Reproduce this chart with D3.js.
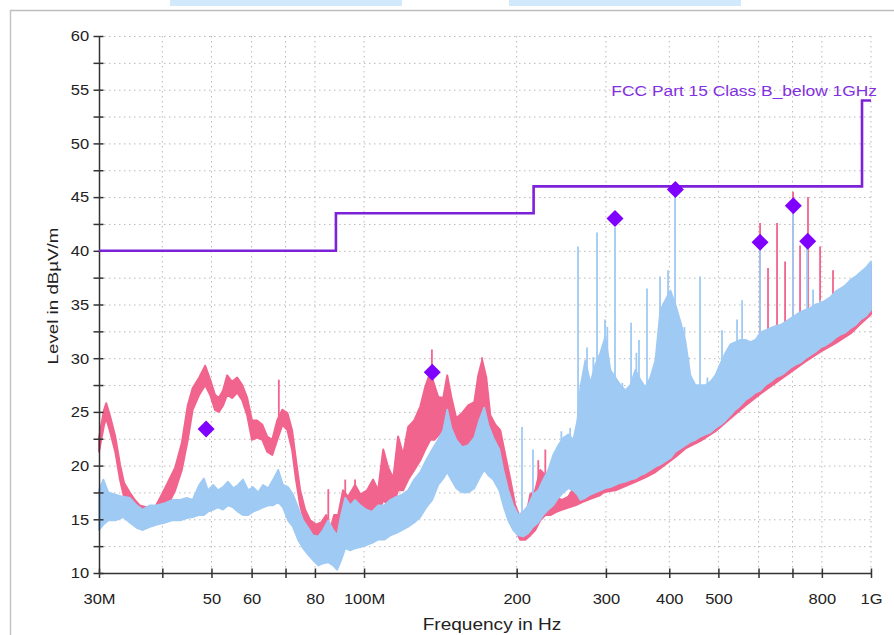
<!DOCTYPE html>
<html><head><meta charset="utf-8">
<script src="https://cdn.jsdelivr.net/npm/d3@7"></script>
<style>body{margin:0;background:#fff;} svg{display:block;}</style>
</head><body>
<svg id="c" width="894" height="635"></svg>
<script>
// ---------- DATA ----------
const limitFreq = [30, 88, 216, 960, 1000];
const limitLevel = [40, 43.5, 46, 54, 54];
const limitName = "FCC Part 15 Class B_below 1GHz";

const finalFreq = [48.8, 136.3, 312.6, 411.3, 604.2, 702.7, 750.0];
const finalLevel = [23.4, 28.7, 43.0, 45.7, 40.8, 44.2, 40.9];

const pinkFreq = [30,30.7,31.0,31.5,32.3,33.0,33.6,34.5,35.3,36.1,37.3,38.7,39.9,41.0,42.4,43.7,44.9,45.9,47.3,48.6,49.7,50.8,51.7,52.7,53.7,54.9,56.2,57.5,58.8,60.1,61.5,63.0,64.4,65.9,67.4,69.0,70.6,72.1,73.4,74.8,76.5,78.3,80.4,82.3,84.2,85.7,87.3,88.9,90.9,93.0,96.0,98.3,101.4,104.2,106.6,109.1,111.6,114.2,116.7,119.4,122.2,125.6,129.1,132.0,135.1,137.6,140.0,143.3,145.9,148.6,152.0,156.2,160.5,165.0,168.0,171.0,174.2,177.4,181.5,185.6,189.9,194.3,198.7,203.3,208.0,212.7,217.6,222.6,227.8,233.0,239.5,246.1,252.9,261.1,269.5,279.5,291.2,296.5,303.3,313.1,327.7,342.9,358.9,375.6,393.0,411.3,430.4,460.8,493.3,528.2,565.4,605.3,648.0,693.8,742.7,795.1,851.2,911.3,953.7,1000];
const pinkHigh = [22.6,25.2,25.8,24.7,22.7,20.1,18.4,17.5,16.8,16.3,16.1,16.1,17.3,18.4,19.8,22.1,25.6,27.2,28.2,29.3,28.0,26.6,26.3,27.0,28.4,27.8,28.2,27.5,26.3,24.2,24.2,23.8,22.7,22.4,24.2,25.2,24.9,23.3,20.5,17.7,15.9,14.9,14.5,14.7,15.4,14.0,15.4,15.4,17.7,17.1,18.2,17.3,17.7,18.7,17.7,21.5,19.8,18.8,22.7,21.0,23.6,24.2,25.5,27.3,28.7,27.5,26.4,26.3,28.4,26.4,24.4,24.9,25.6,25.9,28.4,29.8,28.2,24.7,23.8,23.3,21.0,18.7,16.3,15.1,14.9,17.3,17.7,19.6,19.1,17.7,17.0,16.8,17.1,18.2,19.1,19.8,21.5,24.2,21.0,20.3,20.1,20.5,21.0,21.9,23.3,23.3,24.2,25.2,26.1,27.0,28.4,29.8,31.2,32.2,33.6,34.5,35.9,36.8,37.7,38.7];
const pinkLow = [21.3,23.8,24.4,23.3,21.3,18.7,17.1,16.1,15.5,14.9,14.3,14.5,15.4,16.3,17.7,19.6,22.4,25.2,26.6,27.5,26.6,25.2,25.0,25.6,26.6,26.3,26.8,26.1,24.7,22.4,22.6,22.4,21.3,21.0,22.4,23.8,23.3,21.5,18.7,16.3,14.5,13.1,12.6,12.3,12.6,11.7,12.3,12.6,14.9,14.5,15.4,14.9,14.9,15.4,15.4,16.8,16.3,16.3,17.7,17.7,18.7,19.6,20.5,21.5,22.4,22.4,22.8,23.3,23.8,22.4,21.5,21.0,21.5,21.9,23.3,24.2,22.4,21.0,20.1,19.1,17.3,15.4,14.0,13.1,13.1,13.5,14.0,14.9,15.4,15.4,15.7,15.9,16.1,16.3,16.6,16.9,17.2,17.5,17.6,17.7,18.1,18.5,18.9,19.4,20.1,20.8,21.6,22.3,23.2,24.4,25.6,26.7,27.7,28.7,29.7,30.6,31.4,32.3,33.2,34.1];

const blueFreq = [30,30.6,31.3,32.3,33.5,34.5,35.6,36.6,37.8,39.0,40.5,41.8,43.4,44.7,45.9,47.3,48.3,49.2,50.4,51.5,52.7,53.9,55.2,56.4,57.7,59.1,60.4,61.8,63.2,64.7,66.2,67.7,69.2,70.8,72.4,74.1,75.8,77.6,79.3,81.2,83.0,85.0,86.9,88.5,90.1,91.8,93.9,96.0,98.3,101.0,103.7,106.6,109.6,112.6,115.7,118.9,122.2,125.6,129.1,132.6,136.3,140.0,143.3,145.9,148.6,152.0,156.2,160.5,165.0,168.7,172.6,175.8,179.8,184.8,188.2,192.5,196.9,201.5,206.1,210.8,215.6,220.6,225.7,230.9,236.2,241.7,247.3,252.9,258.7,263.5,267.1,273.2,279.5,285.9,292.5,299.2,306.1,313.1,320.3,327.7,335.2,342.9,350.8,358.9,367.1,375.6,384.2,393.0,402.1,411.3,420.8,430.4,440.3,450.5,460.8,471.4,482.3,493.3,504.7,516.3,528.2,540.3,552.7,565.4,578.4,591.7,605.3,619.2,633.5,648.0,662.9,678.2,693.8,709.7,726.0,742.7,759.8,777.3,795.1,813.4,832.1,851.2,870.8,890.8,911.3,932.3,953.7,975.6,1000];
const blueHigh = [17.7,18.7,17.5,17.3,17.1,17.0,16.3,15.9,16.3,16.3,16.5,16.8,16.8,17.0,16.8,18.2,18.8,17.7,18.2,17.7,18.0,18.5,17.9,18.2,18.7,17.7,18.0,17.5,18.2,17.9,18.7,19.6,18.2,18.0,17.3,16.1,14.9,14.2,13.5,13.4,14.0,14.9,14.0,13.5,15.4,17.0,16.3,16.8,16.3,15.9,15.7,16.3,16.3,16.8,17.1,17.3,17.7,18.7,19.4,20.5,21.5,22.4,23.3,25.2,23.5,22.4,21.7,21.9,22.6,24.2,25.4,23.8,22.6,21.5,19.6,17.7,16.3,15.4,15.7,16.3,17.3,17.7,18.7,19.6,21.0,21.9,22.6,22.9,22.4,24.2,27.3,29.8,27.7,29.4,30.5,32.0,28.9,28.2,27.5,27.0,27.5,28.9,28.0,27.3,28.2,29.8,34.5,35.4,36.3,35.0,33.4,31.6,28.4,27.5,27.5,27.5,27.8,28.4,29.5,30.5,31.3,31.5,31.7,31.7,31.5,31.7,32.4,32.6,32.8,33.0,33.1,33.4,33.7,34.0,34.3,34.5,34.7,35.0,35.1,35.4,35.7,36.2,36.5,36.8,37.3,37.6,38.0,38.4,39.0];
const blueLow = [14.0,14.5,14.9,14.9,15.2,14.7,14.2,14.0,14.3,14.5,14.7,14.9,14.9,15.1,15.2,15.4,15.4,15.7,15.9,16.1,15.9,16.3,16.1,15.7,15.4,15.4,15.7,15.9,16.1,16.3,16.3,16.6,16.1,14.9,14.3,13.1,12.3,11.7,11.2,10.7,10.9,11.0,10.7,10.3,11.2,12.3,12.1,12.3,12.4,12.6,12.8,13.1,13.1,13.5,13.7,14.0,14.3,14.7,15.2,16.1,16.8,18.2,18.8,19.4,18.7,17.9,17.5,17.5,17.9,18.8,19.6,19.1,18.7,17.7,16.3,14.9,14.0,13.5,13.4,13.7,14.3,14.7,15.4,15.9,16.3,17.0,17.5,17.9,17.7,17.3,16.8,17.0,17.3,17.5,17.7,17.9,18.0,18.2,18.4,18.5,18.7,18.8,19.1,19.3,19.6,19.9,20.1,20.4,20.7,21.3,21.6,21.9,22.2,22.4,22.7,22.9,23.1,23.5,23.8,24.2,24.7,25.2,25.6,26.1,26.4,26.8,27.0,27.5,27.8,28.2,28.4,28.7,29.1,29.4,29.6,30.0,30.3,30.6,31.0,31.2,31.5,31.9,32.2,32.4,32.8,33.1,33.6,33.9,34.5];

const pinkSpikeFreq = [67.9, 85.0, 91.8, 96.0, 136.1, 170.9, 220.6, 227.8, 604.2, 626.4, 652.6, 676.9, 701.7, 724.5, 751.1, 793.5, 841.5];
const pinkSpikeLevel = [28.0, 17.8, 18.7, 18.7, 30.8, 30.1, 20.5, 21.5, 42.6, 38.4, 42.6, 39.0, 45.5, 40.5, 45.0, 40.4, 38.2];
const blueSpikeFreq = [204.9, 215.4, 245.0, 255.0, 264.3, 275.3, 283.3, 288.1, 298.7, 301.9, 308.9, 312.6, 323.2, 336.3, 344.5, 348.6, 361.5, 383.6, 389.4, 397.8, 410.6, 420.8, 428.5, 436.3, 460.0, 475.7, 508.3, 521.0, 544.2, 556.9, 604.2, 701.7, 748.0, 768.6, 793.5];
const blueSpikeLevel = [23.6, 21.5, 23.2, 23.5, 40.4, 31.0, 30.1, 41.7, 33.6, 32.9, 28.2, 42.2, 27.7, 33.3, 30.5, 31.7, 36.5, 37.6, 35.1, 38.2, 45.7, 33.3, 32.9, 30.1, 37.6, 28.2, 32.6, 30.5, 33.6, 35.4, 40.7, 44.1, 40.8, 36.4, 35.4];

const xTicks = [30, 40, 50, 60, 70, 80, 100, 200, 300, 400, 500, 600, 700, 800, 1000];
const xTickLabels = ["30M", "", "50", "60", "", "80", "100M", "200", "300", "400", "500", "", "", "800", "1G"];
const yTicks = [10, 12.5, 15, 17.5, 20, 22.5, 25, 27.5, 30, 32.5, 35, 37.5, 40, 42.5, 45, 47.5, 50, 52.5, 55, 57.5, 60];
const yTickLabels = ["10", "", "15", "", "20", "", "25", "", "30", "", "35", "", "40", "", "45", "", "50", "", "55", "", "60"];
const xTitle = "Frequency in Hz";
const yTitle = "Level in dBµV/m";

// ---------- STYLE ----------
const FONT = "'Liberation Sans', Arial, Helvetica, sans-serif";
const PINK = "#f1648d", BLUE = "#9fcaf4", LIMIT = "#7d22d8", DIAMOND = "#7f00ff", AXIS = "#333";

const svg = d3.select("#c");
const x = d3.scaleLog().domain([30, 1000]).range([99, 871]);
const y = d3.scaleLinear().domain([10, 60]).range([573, 36]);

// outer frame decorations
svg.append("rect").attr("x", 170).attr("y", 0).attr("width", 232).attr("height", 6).attr("fill", "#d2e9fc");
svg.append("rect").attr("x", 509).attr("y", 0).attr("width", 232).attr("height", 6).attr("fill", "#d2e9fc");
svg.append("line").attr("x1", 10).attr("x2", 894).attr("y1", 10.5).attr("y2", 10.5).attr("stroke", "#bdbdbd").attr("stroke-width", 1.5);
svg.append("line").attr("x1", 10.5).attr("x2", 10.5).attr("y1", 10).attr("y2", 635).attr("stroke", "#c4c4c4").attr("stroke-width", 1.5);

// grid
const grid = svg.append("g").attr("stroke", "#b9b9b9").attr("stroke-width", 1).attr("stroke-dasharray", "1.5,3.5");
grid.selectAll("line.h").data(yTicks.filter(d => d > 10)).join("line")
  .attr("x1", x(30)).attr("x2", x(1000)).attr("y1", d => y(d) + 0.5).attr("y2", d => y(d) + 0.5);
grid.selectAll("line.v").data(xTicks.filter(d => d > 30)).join("line")
  .attr("x1", d => x(d)).attr("x2", d => x(d)).attr("y1", y(60)).attr("y2", y(10));

// series
const pinkData = pinkFreq.map((f, i) => ({f, hi: pinkHigh[i], lo: pinkLow[i]}));
const blueData = blueFreq.map((f, i) => ({f, hi: blueHigh[i], lo: blueLow[i]}));
const band = d3.area().x(d => x(d.f)).y0(d => y(d.lo)).y1(d => y(d.hi));
const pinkHiAt = d3.scaleLog().domain(pinkFreq).range(pinkHigh);
const blueHiAt = d3.scaleLog().domain(blueFreq).range(blueHigh);

svg.append("path").datum(pinkData).attr("d", band).attr("fill", PINK).attr("stroke", PINK)
  .attr("stroke-width", 2).attr("stroke-linejoin", "round");
svg.append("g").selectAll("line").data(pinkSpikeFreq).join("line")
  .attr("x1", d => x(d)).attr("x2", d => x(d))
  .attr("y1", (d, i) => y(pinkSpikeLevel[i])).attr("y2", d => y(pinkHiAt(d)) + 2)
  .attr("stroke", PINK).attr("stroke-width", 1.8);

svg.append("path").datum(blueData).attr("d", band).attr("fill", BLUE).attr("stroke", BLUE)
  .attr("stroke-width", 1.8).attr("stroke-linejoin", "round");
svg.append("g").selectAll("line").data(blueSpikeFreq).join("line")
  .attr("x1", d => x(d)).attr("x2", d => x(d))
  .attr("y1", (d, i) => y(blueSpikeLevel[i])).attr("y2", d => y(blueHiAt(d)) + 2)
  .attr("stroke", BLUE).attr("stroke-width", 1.8);

// axes
const gx = svg.append("g").attr("transform", `translate(0,${y(10)})`)
  .call(d3.axisBottom(x).tickValues(xTicks).tickFormat((d, i) => xTickLabels[i]).tickSizeOuter(0));
gx.attr("font-family", FONT).attr("font-size", 15);
gx.select(".domain").attr("stroke", AXIS).attr("stroke-width", 1.5);
gx.selectAll(".tick line").attr("y1", -4.5).attr("y2", 5).attr("stroke", AXIS).attr("stroke-width", 1.5);
gx.selectAll(".tick text").attr("y", null).attr("dy", null).attr("fill", "#222")
  .attr("transform", "translate(0,30.5) scale(1.1,1)");

const gy = svg.append("g").attr("transform", `translate(${x(30)},0)`)
  .call(d3.axisLeft(y).tickValues(yTicks).tickFormat((d, i) => yTickLabels[i]).tickSizeOuter(0));
gy.attr("font-family", FONT).attr("font-size", 15);
gy.select(".domain").attr("stroke", AXIS).attr("stroke-width", 1.5);
gy.selectAll(".tick line").attr("x1", -5.5).attr("x2", 4.5).attr("stroke", AXIS).attr("stroke-width", 1.5);
gy.selectAll(".tick text").attr("x", -9).attr("fill", "#222").attr("transform", "scale(1.1,1)");

// limit line
const limitData = limitFreq.map((f, i) => ({f, l: limitLevel[i]}));
svg.append("path").datum(limitData)
  .attr("d", d3.line().x(d => x(d.f)).y(d => y(d.l)).curve(d3.curveStepAfter))
  .attr("fill", "none").attr("stroke", LIMIT).attr("stroke-width", 2.6);
svg.append("text").text(limitName)
  .attr("transform", `translate(${x(1000) + 6},${y(54) - 4.5}) scale(1.2,1)`)
  .attr("text-anchor", "end").attr("font-family", FONT).attr("font-size", 14.5).attr("fill", "#8330e0");

// final points
svg.append("g").selectAll("path").data(finalFreq).join("path")
  .attr("d", "M0,-8.5L8.5,0L0,8.5L-8.5,0Z")
  .attr("transform", (d, i) => `translate(${x(d)},${y(finalLevel[i])})`)
  .attr("fill", DIAMOND);

// titles
svg.append("text").text(xTitle)
  .attr("transform", "translate(492,630) scale(1.19,1)")
  .attr("text-anchor", "middle").attr("font-family", FONT).attr("font-size", 16).attr("fill", "#222");
svg.append("text").text(yTitle)
  .attr("transform", "translate(58,296) rotate(-90) scale(1.25,1)")
  .attr("text-anchor", "middle").attr("font-family", FONT).attr("font-size", 15).attr("fill", "#222");
</script>
</body></html>
